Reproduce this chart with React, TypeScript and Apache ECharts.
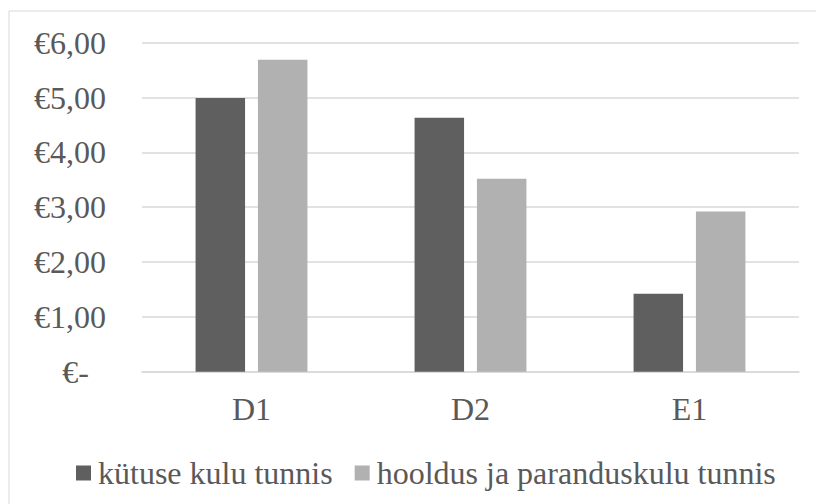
import React, { useEffect, useRef } from "react";
import * as echarts from "echarts";

const categories = ["D1", "D2", "E1"];
const fuelCost = [4.99, 4.63, 1.42];
const maintenanceCost = [5.69, 3.52, 2.92];
const seriesNames = ["kütuse kulu tunnis", "hooldus ja paranduskulu tunnis"];
const yMin = 0;
const yMax = 6;
const yInterval = 1;

const FONT = "Liberation Serif, Times New Roman, serif";
const TEXT = "#595959";

export default function App() {
  const ref = useRef<HTMLDivElement>(null);
  useEffect(() => {
    if (!ref.current) return;
    const chart = echarts.init(ref.current, undefined, { renderer: "svg" });
    chart.setOption({
      animation: false,
      backgroundColor: "#ffffff",
      textStyle: { fontFamily: FONT, fontSize: 32 },
      graphic: [
        {
          type: "rect",
          shape: { x: 9, y: 11, width: 830, height: 530 },
          style: { fill: "none", stroke: "#d9d9d9", lineWidth: 1 },
          silent: true,
        },
      ],
      grid: { left: 142, right: 17, top: 42.7, bottom: 132.3, containLabel: false },
      legend: {
        left: 71,
        top: 452,
        itemWidth: 15,
        itemHeight: 15,
        itemGap: 22,
        icon: "rect",
        textStyle: { fontFamily: FONT, fontSize: 32, color: TEXT, padding: [0, 0, 0, 2] },
        data: seriesNames,
      },
      xAxis: {
        type: "category",
        data: categories,
        axisLine: { show: true, lineStyle: { color: "#d9d9d9", width: 1.5 } },
        axisTick: { show: false },
        axisLabel: { fontFamily: FONT, fontSize: 32, color: TEXT, margin: 21 },
      },
      yAxis: {
        type: "value",
        min: yMin,
        max: yMax,
        interval: yInterval,
        axisLine: { show: false },
        axisTick: { show: false },
        splitLine: { lineStyle: { color: "#d9d9d9", width: 1.5 } },
        axisLabel: {
          fontFamily: FONT,
          fontSize: 32,
          color: TEXT,
          margin: 36,
          formatter: (v: number) =>
            v === 0 ? "{z|€-}" : "€" + v.toFixed(2).replace(".", ","),
          rich: {
            z: { fontFamily: FONT, fontSize: 32, color: TEXT, padding: [0, 17, 0, 0] },
          },
        },
      },
      series: [
        {
          name: seriesNames[0],
          type: "bar",
          data: fuelCost,
          barWidth: 49.5,
          barGap: "26%",
          itemStyle: { color: "#5f5f5f" },
        },
        {
          name: seriesNames[1],
          type: "bar",
          data: maintenanceCost,
          barWidth: 49.5,
          barGap: "26%",
          itemStyle: { color: "#b1b1b1" },
        },
      ],
    });
    return () => chart.dispose();
  }, []);
  return (
    <div
      ref={ref}
      style={{ position: "fixed", left: 0, top: 0, width: 816, height: 504 }}
    />
  );
}
